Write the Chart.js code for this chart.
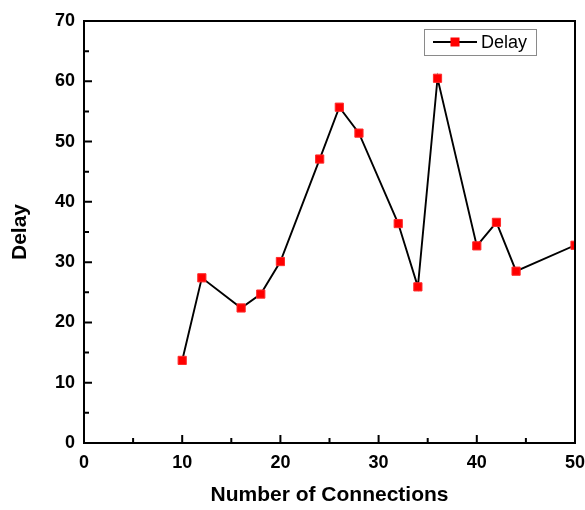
<!DOCTYPE html>
<html>
<head>
<meta charset="utf-8">
<script src="https://cdn.jsdelivr.net/npm/chart.js@4/dist/chart.umd.min.js"></script>
<style>
html,body{margin:0;padding:0;background:#fff;}
#wrap{width:585px;height:510px;}
</style>
</head>
<body>
<div id="wrap"><canvas id="c" width="585" height="510"></canvas></div>
<script>
const connections = [10, 12, 16, 18, 20, 24, 26, 28, 32, 34, 36, 40, 42, 44, 50];
const delayValues = [13.7, 27.4, 22.4, 24.7, 30.1, 47.1, 55.7, 51.4, 36.4, 25.9, 60.5, 32.7, 36.6, 28.5, 32.8];
const seriesLabel = 'Delay';
const xTitle = 'Number of Connections';
const yTitle = 'Delay';
const xRange = [0, 50];
const yRange = [0, 70];
const majorStep = 10;
const minorStep = 5;

const FONT = "'Liberation Sans', Arial, sans-serif";

const frameTicks = {
  id: 'frameTicks',
  afterDatasetsDraw(chart) {
    const {ctx, chartArea: a, scales} = chart;
    ctx.save();
    ctx.strokeStyle = '#000';
    ctx.lineWidth = 2;
    ctx.strokeRect(a.left, a.top, a.right - a.left, a.bottom - a.top);
    ctx.lineWidth = 2;
    ctx.beginPath();
    const xs = scales.x, ys = scales.y;
    for (let v = xRange[0]; v <= xRange[1] + 1e-9; v += minorStep) {
      const px = xs.getPixelForValue(v);
      const len = (v % majorStep === 0) ? 8 : 5;
      ctx.moveTo(px, a.bottom);
      ctx.lineTo(px, a.bottom - len);
    }
    for (let v = yRange[0]; v <= yRange[1] + 1e-9; v += minorStep) {
      const py = ys.getPixelForValue(v);
      const len = (v % majorStep === 0) ? 8 : 5;
      ctx.moveTo(a.left, py);
      ctx.lineTo(a.left + len, py);
    }
    ctx.stroke();

    // legend
    const ds = chart.data.datasets[0];
    const bx = 424, by = 29, bw = 112, bh = 26;
    ctx.fillStyle = '#fff';
    ctx.fillRect(bx, by, bw, bh);
    ctx.strokeStyle = '#8a8a8a';
    ctx.lineWidth = 1;
    ctx.strokeRect(bx + 0.5, by + 0.5, bw, bh);
    const cy = by + bh / 2;
    ctx.strokeStyle = '#000';
    ctx.lineWidth = 1.9;
    ctx.beginPath();
    ctx.moveTo(433, cy);
    ctx.lineTo(477, cy);
    ctx.stroke();
    ctx.fillStyle = '#ff0000';
    ctx.fillRect(455 - 4.5, cy - 4.5, 9, 9);
    ctx.fillStyle = '#000';
    ctx.font = '18px ' + FONT;
    ctx.textBaseline = 'middle';
    ctx.textAlign = 'left';
    ctx.fillText(ds.label, 481, cy + 1);
    ctx.restore();
  }
};

new Chart(document.getElementById('c'), {
  type: 'line',
  data: {
    datasets: [{
      label: seriesLabel,
      data: connections.map((x, i) => ({x: x, y: delayValues[i]})),
      borderColor: '#000',
      borderWidth: 1.9,
      pointStyle: 'rect',
      pointRadius: 5.8,
      pointHoverRadius: 5.8,
      pointBackgroundColor: '#ff0000',
      pointBorderColor: '#ff2a2a',
      pointBorderWidth: 1,
      tension: 0,
      fill: false,
      clip: 0
    }]
  },
  options: {
    responsive: false,
    animation: false,
    events: [],
    layout: {padding: {top: 21, right: 10, left: 0, bottom: 0}},
    plugins: {legend: {display: false}, tooltip: {enabled: false}},
    scales: {
      x: {
        type: 'linear',
        min: xRange[0], max: xRange[1],
        grid: {display: false, drawTicks: false},
        border: {display: false},
        ticks: {stepSize: majorStep, color: '#000', padding: 9, font: {family: FONT, size: 18, weight: 'bold'}},
        title: {display: true, text: xTitle, color: '#000', padding: {top: 0, bottom: 2}, font: {family: FONT, size: 21, weight: 'bold'}},
        afterFit(s) { s.height = 67; s.paddingLeft = 0; s.paddingRight = 0; }
      },
      y: {
        type: 'linear',
        min: yRange[0], max: yRange[1],
        grid: {display: false, drawTicks: false},
        border: {display: false},
        ticks: {stepSize: majorStep, color: '#000', padding: 9, font: {family: FONT, size: 18, weight: 'bold'}},
        title: {display: true, text: yTitle, color: '#000', padding: {top: 8, bottom: 0}, font: {family: FONT, size: 21, weight: 'bold'}},
        afterFit(s) { s.width = 84; s.paddingTop = 0; s.paddingBottom = 0; }
      }
    }
  },
  plugins: [frameTicks]
});
</script>
</body>
</html>
